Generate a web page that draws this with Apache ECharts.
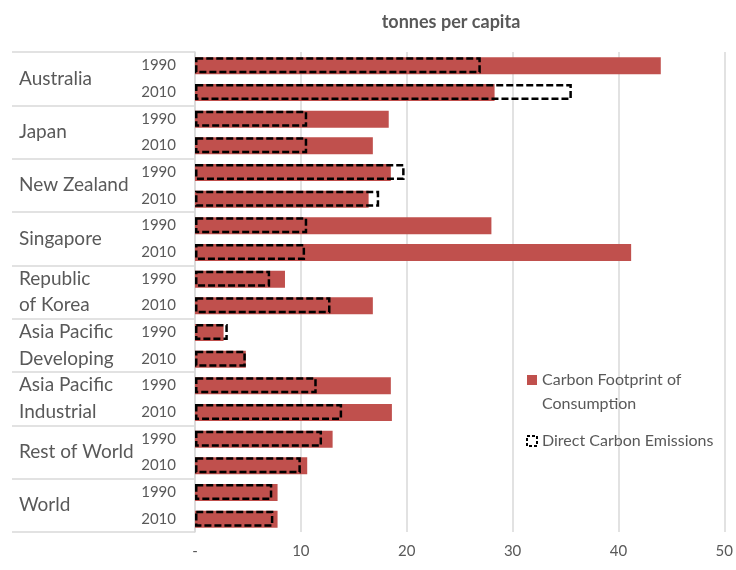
<!DOCTYPE html>
<html><head><meta charset="utf-8">
<script src="https://cdn.jsdelivr.net/npm/echarts@6/dist/echarts.min.js"></script>
<style>html,body{margin:0;padding:0;background:#fff}#c{width:736px;height:570px}</style>
</head><body><div id="c"></div>
<script>
const regions = ['Australia', 'Japan', 'New Zealand', 'Singapore', 'Republic\nof Korea', 'Asia Pacific\nDeveloping', 'Asia Pacific\nIndustrial', 'Rest of World', 'World'];
const years = ['1990', '2010'];
const footprint = [44.0, 28.3, 18.3, 16.8, 18.5, 16.4, 28.0, 41.2, 8.5, 16.8, 2.7, 4.8, 18.5, 18.6, 13.0, 10.6, 7.8, 7.8];
const direct = [27.0, 35.6, 10.6, 10.6, 19.8, 17.4, 10.6, 10.4, 7.1, 12.8, 3.1, 4.8, 11.5, 13.9, 12.0, 10.0, 7.3, 7.4];
const seriesNames = ['Carbon Footprint of Consumption', 'Direct Carbon Emissions'];
const legendLabels = ['\nCarbon Footprint of\nConsumption', 'Direct Carbon Emissions'];
const xMin = 0, xMax = 50, xStep = 10;
const title = 'tonnes per capita';

const rows = [];
regions.forEach(r => years.forEach(y => rows.push(r + '|' + y)));

const FONT = 'Lato';
const GRAY = '#595959';
const LINE = '#d9d9d9';
const RED = '#C0504D';

const chart = echarts.init(document.getElementById('c'));
chart.setOption({
  animation: false,
  textStyle: {fontFamily: FONT},
  title: {
    text: title, left: 446, top: 8, textAlign: 'center',
    textStyle: {fontFamily: FONT, fontWeight: 'bold', fontSize: 18, color: GRAY}
  },
  legend: {
    orient: 'vertical', left: 526, top: 344, padding: 0, itemWidth: 10, itemHeight: 10, itemGap: 13,
    textStyle: {fontFamily: FONT, fontSize: 16, color: GRAY, lineHeight: 24},
    formatter: n => legendLabels[seriesNames.indexOf(n)],
    data: [
      {name: seriesNames[0], icon: 'rect', itemStyle: {color: RED, borderWidth: 0}},
      {name: seriesNames[1], icon: 'rect', itemStyle: {color: 'rgba(0,0,0,0)', borderColor: '#000', borderWidth: 2, borderType: [3, 2]}}
    ]
  },
  grid: {left: 195, right: 10, top: 52, bottom: 38, containLabel: false},
  xAxis: {
    type: 'value', min: xMin, max: xMax, interval: xStep,
    axisLine: {show: false}, axisTick: {show: false},
    splitLine: {lineStyle: {color: LINE, width: 1.5}},
    axisLabel: {color: GRAY, fontSize: 15, margin: 12, formatter: v => v === 0 ? '-' : String(v)}
  },
  yAxis: [
    {
      type: 'category', data: rows, inverse: true, position: 'left',
      axisLine: {show: true, lineStyle: {color: LINE, width: 1.5}},
      axisTick: {show: false},
      axisLabel: {interval: 0, color: GRAY, fontSize: 15, margin: 19, formatter: v => v.split('|')[1]}
    },
    {
      type: 'category', data: regions, inverse: true, position: 'left',
      axisLine: {show: false},
      axisTick: {show: true, length: 183, lineStyle: {color: LINE, width: 1.5}},
      axisLabel: {interval: 0, color: GRAY, fontSize: 19, lineHeight: 26.7, align: 'left', margin: 176}
    }
  ],
  series: [
    {
      name: seriesNames[0], type: 'bar', yAxisIndex: 0, data: footprint, barWidth: 17,
      itemStyle: {color: RED}
    },
    {
      name: seriesNames[1], type: 'bar', yAxisIndex: 0, data: direct, barWidth: 16, barGap: '-100%',
      itemStyle: {color: 'rgba(0,0,0,0)', borderColor: '#000', borderWidth: 2.5, borderType: [7, 3]}
    }
  ]
});
</script>
</body></html>
